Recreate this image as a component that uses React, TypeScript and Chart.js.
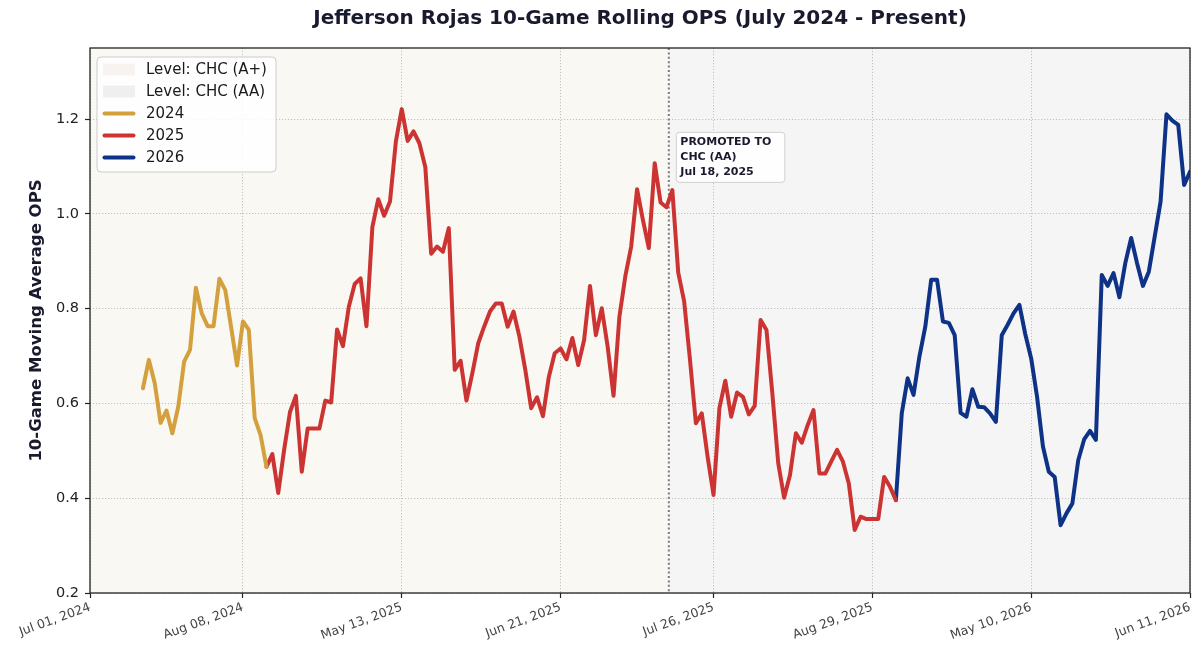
import React, { useEffect, useRef } from 'react';
import { Chart, registerables } from 'chart.js';

Chart.register(...registerables);

// ---------------- data ----------------
const tickIndices = [0, 26, 53, 80, 106, 133, 160, 187];
const tickLabels = [
  'Jul 01, 2024',
  'Aug 08, 2024',
  'May 13, 2025',
  'Jun 21, 2025',
  'Jul 26, 2025',
  'Aug 29, 2025',
  'May 10, 2026',
  'Jun 11, 2026',
];
const yTicks = [0.2, 0.4, 0.6, 0.8, 1.0, 1.2];
const lastGameIndex = 187;

const start2024 = 9;
const ops2024 = [
  0.632, 0.692, 0.643, 0.559, 0.585, 0.537, 0.593, 0.688, 0.713, 0.844, 0.79,
  0.763, 0.763, 0.863, 0.839, 0.76, 0.68, 0.773, 0.755, 0.569, 0.533, 0.466,
];

const start2025 = 31;
const ops2025 = [
  0.493, 0.411, 0.502, 0.582, 0.616, 0.456, 0.547, 0.547, 0.547, 0.606,
  0.602, 0.756, 0.721, 0.804, 0.852, 0.864, 0.763, 0.972, 1.031, 0.996,
  1.026, 1.153, 1.221, 1.154, 1.174, 1.149, 1.099, 0.916, 0.931, 0.92,
  0.97, 0.671, 0.69, 0.606, 0.664, 0.727, 0.762, 0.794, 0.811, 0.811,
  0.762, 0.794, 0.741, 0.671, 0.59, 0.613, 0.573, 0.656, 0.706, 0.716,
  0.693, 0.738, 0.681, 0.734, 0.848, 0.744, 0.801, 0.72, 0.616, 0.783,
  0.868, 0.931, 1.052, 0.987, 0.928, 1.107, 1.024, 1.014, 1.05, 0.876,
  0.816, 0.692, 0.558, 0.579, 0.487, 0.407, 0.59, 0.648, 0.572, 0.623,
  0.614, 0.577, 0.595, 0.776, 0.755, 0.621, 0.474, 0.401, 0.449, 0.537,
  0.517, 0.554, 0.586, 0.452, 0.452, 0.477, 0.502, 0.477, 0.431, 0.333,
  0.361, 0.356, 0.356, 0.356, 0.445, 0.424, 0.396,
];

const start2026 = 138;
const ops2026 = [
  0.579, 0.653, 0.618, 0.699, 0.762, 0.861, 0.861, 0.773, 0.77, 0.744,
  0.58, 0.572, 0.63, 0.593, 0.592, 0.579, 0.561, 0.744, 0.766, 0.79,
  0.808, 0.746, 0.695, 0.614, 0.509, 0.456, 0.445, 0.343, 0.368, 0.389,
  0.48, 0.524, 0.542, 0.523, 0.871, 0.848, 0.875, 0.824, 0.896, 0.949,
  0.896, 0.848, 0.878, 0.952, 1.026, 1.21, 1.197, 1.188, 1.061, 1.089,
];

const promotionIndex = 98.4;
const promotionText = ['PROMOTED TO', 'CHC (AA)', 'Jul 18, 2025'];
const levelLabels = ['Level: CHC (A+)', 'Level: CHC (AA)'];
const seasonLabels = ['2024', '2025', '2026'];

// ---------------- styles ----------------
const FONT = "'DejaVu Sans', 'Liberation Sans', sans-serif";
const COLOR_2024 = '#D4A03E';
const COLOR_2025 = '#CC3433';
const COLOR_2026 = '#0E3386';
const BG_APLUS = '#F9F8F3';
const BG_AA = '#F5F5F5';
const LEGEND_APLUS = '#F8F2F0';
const LEGEND_AA = '#EFEFEF';
const NAVY_TEXT = '#1a1a2e';

function toPoints(start: number, values: number[], prev?: { x: number; y: number }) {
  const pts = values.map((v, i) => ({ x: start + i, y: v }));
  return prev ? [prev, ...pts] : pts;
}

function roundRect(ctx: CanvasRenderingContext2D, x: number, y: number, w: number, h: number, r: number) {
  ctx.beginPath();
  ctx.moveTo(x + r, y);
  ctx.lineTo(x + w - r, y);
  ctx.quadraticCurveTo(x + w, y, x + w, y + r);
  ctx.lineTo(x + w, y + h - r);
  ctx.quadraticCurveTo(x + w, y + h, x + w - r, y + h);
  ctx.lineTo(x + r, y + h);
  ctx.quadraticCurveTo(x, y + h, x, y + h - r);
  ctx.lineTo(x, y + r);
  ctx.quadraticCurveTo(x, y, x + r, y);
  ctx.closePath();
}

const decorPlugin = {
  id: 'decor',
  beforeDraw(chart: any) {
    const { ctx, chartArea: a, scales } = chart;
    const px = scales.x.getPixelForValue(promotionIndex);
    ctx.save();
    ctx.fillStyle = '#ffffff';
    ctx.fillRect(0, 0, chart.width, chart.height);
    ctx.fillStyle = BG_APLUS;
    ctx.fillRect(a.left, a.top, px - a.left, a.bottom - a.top);
    ctx.fillStyle = BG_AA;
    ctx.fillRect(px, a.top, a.right - px, a.bottom - a.top);
    ctx.restore();
  },
  beforeDatasetsDraw(chart: any) {
    const { ctx, chartArea: a, scales } = chart;
    const px = scales.x.getPixelForValue(promotionIndex);
    ctx.save();
    ctx.strokeStyle = '#7a7a7a';
    ctx.lineWidth = 2;
    ctx.setLineDash([2, 2.4]);
    ctx.beginPath();
    ctx.moveTo(px, a.top);
    ctx.lineTo(px, a.bottom);
    ctx.stroke();
    ctx.restore();
  },
  afterDraw(chart: any) {
    const { ctx, chartArea: a, scales } = chart;
    ctx.save();
    // spines
    ctx.strokeStyle = '#222222';
    ctx.lineWidth = 1.3;
    ctx.setLineDash([]);
    ctx.strokeRect(a.left, a.top, a.right - a.left, a.bottom - a.top);

    // annotation box
    const px = scales.x.getPixelForValue(promotionIndex);
    const boxTop = scales.y.getPixelForValue(1.172);
    const bx = px + 7.5;
    roundRect(ctx, bx, boxTop, 108.5, 50, 3);
    ctx.fillStyle = 'rgba(255,255,255,0.9)';
    ctx.fill();
    ctx.strokeStyle = '#cfcfcf';
    ctx.lineWidth = 1;
    ctx.stroke();
    ctx.fillStyle = NAVY_TEXT;
    ctx.font = `bold 11px ${FONT}`;
    ctx.textAlign = 'left';
    ctx.textBaseline = 'middle';
    promotionText.forEach((t, i) => ctx.fillText(t, bx + 4, boxTop + 9.5 + i * 15));

    // legend
    const lx = a.left + 7;
    const ly = a.top + 9;
    roundRect(ctx, lx, ly, 179, 115, 4);
    ctx.fillStyle = 'rgba(255,255,255,0.85)';
    ctx.fill();
    ctx.strokeStyle = '#cccccc';
    ctx.lineWidth = 1;
    ctx.stroke();
    const entries = [
      { label: levelLabels[0], kind: 'patch', color: LEGEND_APLUS },
      { label: levelLabels[1], kind: 'patch', color: LEGEND_AA },
      { label: seasonLabels[0], kind: 'line', color: COLOR_2024 },
      { label: seasonLabels[1], kind: 'line', color: COLOR_2025 },
      { label: seasonLabels[2], kind: 'line', color: COLOR_2026 },
    ];
    ctx.font = `15px ${FONT}`;
    ctx.textBaseline = 'middle';
    entries.forEach((e, i) => {
      const cy = ly + 12.5 + i * 22;
      if (e.kind === 'patch') {
        ctx.fillStyle = e.color;
        ctx.fillRect(lx + 6, cy - 6, 32, 12);
      } else {
        ctx.strokeStyle = e.color;
        ctx.lineWidth = 4;
        ctx.lineCap = 'round';
        ctx.beginPath();
        ctx.moveTo(lx + 7.5, cy);
        ctx.lineTo(lx + 36.5, cy);
        ctx.stroke();
      }
      ctx.fillStyle = '#1a1a1a';
      ctx.fillText(e.label, lx + 49, cy + 0.5);
    });

    // title
    ctx.fillStyle = NAVY_TEXT;
    ctx.font = `bold 20px ${FONT}`;
    ctx.textAlign = 'center';
    ctx.textBaseline = 'middle';
    ctx.fillText('Jefferson Rojas 10-Game Rolling OPS (July 2024 - Present)', (a.left + a.right) / 2, 19);

    // y label
    ctx.translate(37, (a.top + a.bottom) / 2);
    ctx.rotate(-Math.PI / 2);
    ctx.font = `bold 16.5px ${FONT}`;
    ctx.fillText('10-Game Moving Average OPS', 0, 0);
    ctx.restore();
  },
};

export default function App() {
  const ref = useRef<HTMLCanvasElement>(null);

  useEffect(() => {
    document.body.style.margin = '0';
    if (!ref.current) return;
    const last2024 = { x: start2024 + ops2024.length - 1, y: ops2024[ops2024.length - 1] };
    const last2025 = { x: start2025 + ops2025.length - 1, y: ops2025[ops2025.length - 1] };
    const lineStyle = {
      borderWidth: 4,
      pointRadius: 0,
      pointHoverRadius: 0,
      tension: 0,
      borderJoinStyle: 'round' as const,
      borderCapStyle: 'round' as const,
      fill: false,
    };
    const chart = new Chart(ref.current, {
      type: 'line',
      data: {
        datasets: [
          { label: seasonLabels[0], data: toPoints(start2024, ops2024), borderColor: COLOR_2024, ...lineStyle },
          { label: seasonLabels[1], data: toPoints(start2025, ops2025, last2024), borderColor: COLOR_2025, ...lineStyle },
          { label: seasonLabels[2], data: toPoints(start2026, ops2026, last2025), borderColor: COLOR_2026, ...lineStyle },
        ],
      },
      options: {
        animation: false,
        responsive: false,
        devicePixelRatio: 1,
        layout: { padding: { top: 48, right: 10, left: 0, bottom: 0 } },
        plugins: {
          legend: { display: false },
          title: { display: false },
          tooltip: { enabled: false },
        },
        scales: {
          x: {
            type: 'linear',
            min: 0,
            max: lastGameIndex,
            afterFit: (s: any) => {
              s.height = 57;
            },
            afterBuildTicks: (s: any) => {
              s.ticks = tickIndices.map((v) => ({ value: v }));
            },
            ticks: {
              autoSkip: false,
              minRotation: 20,
              maxRotation: 20,
              padding: 2,
              color: '#444444',
              font: { family: FONT, size: 12.5 },
              callback: (v: any) => {
                const i = tickIndices.indexOf(Number(v));
                return i >= 0 ? tickLabels[i] : '';
              },
            },
            grid: {
              color: 'rgba(150,150,150,0.55)',
              lineWidth: 1,
              drawTicks: true,
              tickLength: 5,
              tickColor: '#222222',
              tickWidth: 1.2,
              tickBorderDash: [],
            },
            border: { display: false, dash: [1.2, 1.8] },
          },
          y: {
            type: 'linear',
            min: 0.2,
            max: 1.35,
            afterFit: (s: any) => {
              s.width = 90;
            },
            afterBuildTicks: (s: any) => {
              s.ticks = yTicks.map((v) => ({ value: v }));
            },
            ticks: {
              padding: 6,
              color: '#222222',
              font: { family: FONT, size: 14.5 },
              callback: (v: any) => Number(v).toFixed(1),
            },
            grid: {
              color: 'rgba(150,150,150,0.55)',
              lineWidth: 1,
              drawTicks: true,
              tickLength: 5,
              tickColor: '#222222',
              tickWidth: 1.2,
              tickBorderDash: [],
            },
            border: { display: false, dash: [1.2, 1.8] },
          },
        },
      },
      plugins: [decorPlugin],
    });
    return () => chart.destroy();
  }, []);

  return (
    <div style={{ position: 'absolute', left: 0, top: 0, width: 1200, height: 650, background: '#fff' }}>
      <canvas ref={ref} width={1200} height={650} style={{ width: 1200, height: 650, display: 'block' }} />
    </div>
  );
}
